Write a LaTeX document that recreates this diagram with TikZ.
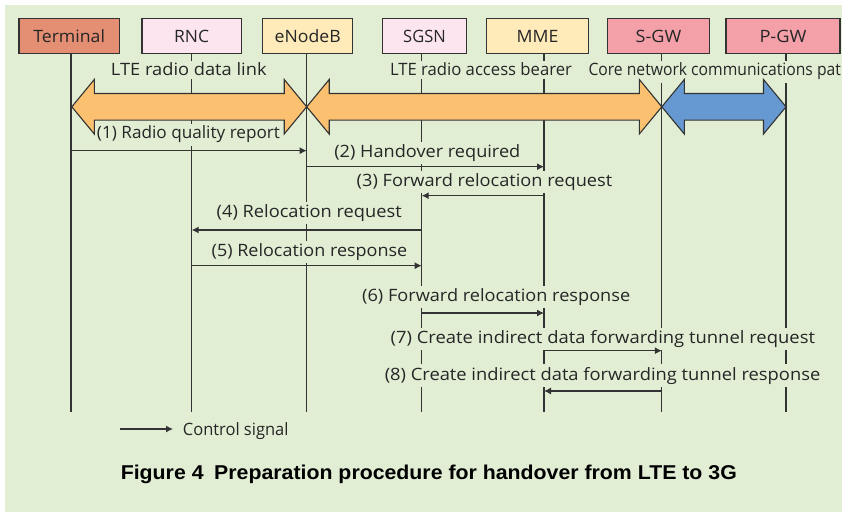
\documentclass[tikz,border=0pt]{standalone}
\usepackage{fontspec}
\usepackage{graphicx}
\setmainfont{Open Sans}
\newfontfamily\capfont{Liberation Sans}
\usetikzlibrary{arrows.meta}
\definecolor{bgc}{HTML}{E1EED4}
\definecolor{linec}{HTML}{333333}
\definecolor{txtc}{HTML}{262626}
\definecolor{termc}{HTML}{E48F73}
\definecolor{pinkc}{HTML}{FDE5EF}
\definecolor{yelc}{HTML}{FFEAB9}
\definecolor{redc}{HTML}{F4A0A8}
\definecolor{orangec}{HTML}{FBC070}
\definecolor{bluec}{HTML}{6699D2}
\newcommand{\fitw}[2]{\resizebox{#1pt}{\height}{#2}}
\newcommand{\fatarrow}[3]{%
  \filldraw[fill=#3,draw=linec,line width=1.1pt,line join=miter]
    (#1,106.8) -- ({#1+22.5},79.5) -- ({#1+22.5},93.5) -- ({#2-22.5},93.5) -- ({#2-22.5},79.5)
    -- (#2,106.8) -- ({#2-22.5},134) -- ({#2-22.5},120.1) -- ({#1+22.5},120.1) -- ({#1+22.5},134) -- cycle;}
\tikzset{
  entity/.style={draw=linec,line width=1.2pt,minimum height=35pt,inner sep=0pt,
    text=txtc,font=\fontsize{17}{20}\selectfont,text height=12.5pt,text depth=0pt},
  lifeline/.style={draw=linec,line width=1.1pt},
  msg/.style={draw=linec,line width=1.1pt,-{Latex[length=7pt,width=7pt]}},
  lbl/.style={anchor=base,fill=bgc,inner xsep=1pt,inner ysep=2.5pt,text=txtc,
    font=\fontsize{17}{20}\selectfont}
}
\begin{document}
\begin{tikzpicture}[x=1pt,y=-1pt]
\useasboundingbox (0,0) rectangle (842,513);
\fill[bgc] (5,5) rectangle (842,512);
% entities
\node[entity,fill=termc,minimum width=100.3pt] (term) at (69.15,35.8) {\fitw{71.7}{Terminal}};
\node[entity,fill=pinkc,minimum width=99.3pt] (rnc) at (191.65,35.8) {\fitw{35}{RNC}};
\node[entity,fill=yelc,minimum width=90pt] (enb) at (307.7,35.8) {\fitw{66}{eNodeB}};
\node[entity,fill=pinkc,minimum width=84.4pt] (sgsn) at (424.5,35.8) {\fitw{42.6}{SGSN}};
\node[entity,fill=yelc,minimum width=101.6pt] (mme) at (537.5,35.8) {\fitw{41.7}{MME}};
\node[entity,fill=redc,minimum width=101.6pt] (sgw) at (658.5,35.8) {\fitw{45.7}{S-GW}};
\node[entity,fill=redc,minimum width=114pt] (pgw) at (783,35.8) {\fitw{47}{P-GW}};
% lifeline coordinates
\coordinate (lT) at (71,53.3);   \coordinate (bT) at (71,412);
\coordinate (lR) at (191.7,53.3); \coordinate (bR) at (191.7,412);
\coordinate (lE) at (306.7,53.3); \coordinate (bE) at (306.7,412);
\coordinate (lS) at (421.7,53.3); \coordinate (bS) at (421.7,412);
\coordinate (lM) at (544,53.3);   \coordinate (bM) at (544,412);
\coordinate (lG) at (661.8,53.3); \coordinate (bG) at (661.8,412);
\coordinate (lP) at (786,53.3);   \coordinate (bP) at (786,412);
\foreach \a/\b in {lT/bT,lR/bR,lE/bE,lS/bS,lM/bM,lG/bG,lP/bP}
  \draw[lifeline] (\a) -- (\b);
% labels
\node[lbl] (t1) at (188.8,76) {\fitw{155.7}{LTE radio data link}};
\node[lbl] (t2) at (481,76) {\fitw{182}{LTE radio access bearer}};
\node[lbl,anchor=base west] (t3) at (587.3,76) {\fitw{262}{Core network communications path}};
\node[lbl] (n1) at (188.5,139) {\fitw{183}{(1) Radio quality report}};
\node[lbl] (n2) at (427.3,157.3) {\fitw{186}{(2) Handover required}};
\node[lbl] (n3) at (484.5,186) {\fitw{255.6}{(3) Forward relocation request}};
\node[lbl] (n4) at (309.2,217.7) {\fitw{185}{(4) Relocation request}};
\node[lbl] (n5) at (309.5,256) {\fitw{195.6}{(5) Relocation response}};
\node[lbl] (n6) at (496.2,301.7) {\fitw{268}{(6) Forward relocation response}};
\node[lbl] (n7) at (602.8,343.3) {\fitw{424.4}{(7) Create indirect data forwarding tunnel request}};
\node[lbl] (n8) at (602.5,380) {\fitw{435.5}{(8) Create indirect data forwarding tunnel response}};
% fat arrows
\fatarrow{71.8}{306.7}{orangec}
\fatarrow{306.7}{661.8}{orangec}
\fatarrow{661.8}{786}{bluec}
% messages
\coordinate (m1) at (0,150.7);
\coordinate (m2) at (0,166.7);
\coordinate (m3) at (0,195.7);
\coordinate (m4) at (0,230);
\coordinate (m5) at (0,265.7);
\coordinate (m6) at (0,313);
\coordinate (m7) at (0,350.7);
\coordinate (m8) at (0,391);
\draw[msg] (lT |- m1) -- (lE |- m1);
\draw[msg] (lE |- m2) -- (lM |- m2);
\draw[msg] (lM |- m3) -- (lS |- m3);
\draw[msg] (lS |- m4) -- (lR |- m4);
\draw[msg] (lR |- m5) -- (lS |- m5);
\draw[msg] (lS |- m6) -- (lM |- m6);
\draw[msg] (lM |- m7) -- (lG |- m7);
\draw[msg] (lG |- m8) -- (lM |- m8);
% legend
\coordinate (k1) at (120,429);
\coordinate (k2) at (173,429);
\draw[msg] (k1) -- (k2);
\node[anchor=base west,inner sep=0pt,text=txtc,font=\fontsize{17}{20}\selectfont] (key) at (182.7,435) {\fitw{105.6}{Control signal}};
% caption
\node[anchor=base,inner sep=0pt,text=black,font=\capfont\bfseries\fontsize{20}{24}\selectfont] (cap) at (428.8,479.3) {\fitw{616}{Figure 4\hspace{0.5em}Preparation procedure for handover from LTE to 3G}};
\end{tikzpicture}
\end{document}
